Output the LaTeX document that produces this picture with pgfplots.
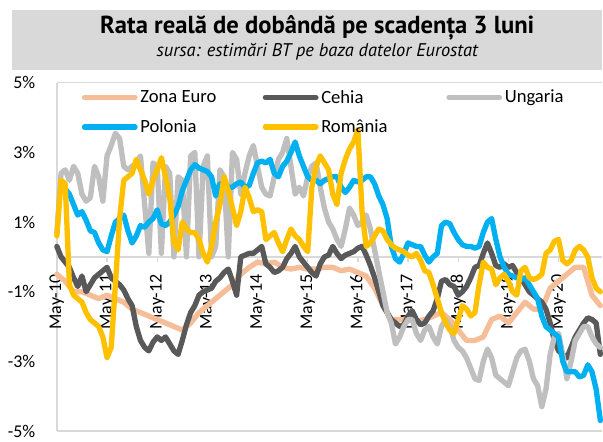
\documentclass[border=0pt]{standalone}
\usepackage{pgfplots}
\pgfplotsset{compat=1.18}
\usepackage{pgfplotstable}
\usepackage{fontspec}
\setmainfont{Carlito}
\newfontfamily\titlefont{PT Sans}

\definecolor{ze}{HTML}{F6BE98}
\definecolor{cz}{HTML}{595959}
\definecolor{hu}{HTML}{BFBFBF}
\definecolor{pl}{HTML}{00B0F0}
\definecolor{ro}{HTML}{FFC000}
\definecolor{hdr}{HTML}{D9D9D9}
\definecolor{lgr}{HTML}{D9D9D9}

% months since May-10, real rate in %
\pgfplotstableread{
m v
0 -0.5
2 -0.7
4 -1.0
6 -1.0
8 -1.1
10 -1.2
12 -1.1
14 -1.2
16 -1.3
18 -1.5
20 -1.6
22 -1.7
24 -1.8
26 -1.9
28 -2.0
30 -2.1
32 -1.9
34 -1.6
36 -1.4
38 -1.2
40 -1.0
42 -0.8
44 -0.5
46 -0.3
48 -0.15
50 -0.2
52 -0.15
54 -0.3
56 -0.35
58 -0.3
60 -0.35
62 -0.35
64 -0.3
66 -0.3
68 -0.4
70 -0.35
72 -0.45
74 -0.55
76 -0.9
78 -1.4
80 -1.8
82 -1.8
84 -1.8
86 -1.85
88 -1.8
90 -1.7
92 -1.6
94 -1.8
96 -2.1
98 -2.4
100 -2.4
102 -2.3
104 -1.8
106 -1.7
108 -1.9
110 -1.6
112 -1.3
114 -1.5
116 -1.5
118 -0.9
120 -0.7
122 -0.5
124 -0.3
126 -0.3
128 -1.1
130 -1.4
}\zetab

\pgfplotstableread{
m v
0 0.3
1 0.0
2 -0.15
3 -0.3
4 -0.6
5 -0.85
6 -0.55
7 -1.0
8 -0.8
9 -0.6
10 -0.5
11 -0.4
12 -0.3
13 -0.6
14 -0.7
15 -0.8
16 -0.95
17 -1.2
18 -1.4
19 -2.0
20 -2.4
21 -2.6
22 -2.7
23 -2.45
24 -2.3
25 -2.4
26 -2.3
27 -2.5
28 -2.7
29 -2.8
30 -2.4
31 -1.95
32 -1.6
33 -1.4
34 -1.1
35 -1.0
36 -0.95
37 -0.9
38 -0.7
39 -0.6
40 -0.45
41 -0.35
42 -0.7
43 -1.1
44 0.0
45 0.05
46 0.1
47 0.1
48 0.2
49 0.3
50 -0.2
51 -0.3
52 -0.45
53 -0.4
54 -0.3
55 -0.05
56 0.1
57 0.3
58 0.0
59 -0.15
60 -0.3
61 -0.45
62 -0.55
63 -0.2
64 0.0
65 0.05
66 0.3
67 0.1
68 -0.05
69 0.05
70 0.1
71 0.15
72 0.25
73 0.3
74 0.05
75 -0.25
76 -0.6
77 -1.0
78 -1.4
79 -1.6
80 -1.8
81 -1.9
82 -2.0
83 -1.95
84 -1.7
85 -1.55
86 -1.8
87 -1.95
88 -1.9
89 -1.7
90 -1.55
91 -1.2
92 -0.7
93 -0.65
94 -0.8
95 -0.85
96 -1.1
97 -1.0
98 -0.85
99 -0.6
100 -0.3
101 -0.25
102 0.1
103 0.4
104 0.1
105 -0.25
106 -0.3
107 -0.2
108 -0.3
109 -0.25
110 -0.45
111 -0.6
112 -0.8
113 -1.0
114 -1.1
115 -1.2
116 -1.3
117 -1.5
118 -1.9
119 -2.4
120 -2.7
121 -2.8
122 -2.9
123 -2.6
124 -2.3
125 -2.1
126 -1.9
127 -1.75
128 -1.8
129 -1.9
130 -2.8
}\cztab

\pgfplotstableread{
m v
0 0.7
1 2.4
2 2.5
3 2.2
4 2.6
5 2.4
6 1.8
7 1.6
8 1.7
9 2.6
10 2.3
11 1.6
12 2.9
13 3.2
14 3.55
15 3.4
16 2.6
17 2.5
18 2.6
19 2.7
20 2.9
21 1.5
22 0.1
23 2.7
24 2.6
25 0.1
26 2.6
27 2.4
28 0.0
29 2.3
30 2.2
31 0.0
32 2.9
33 3.0
34 0.0
35 2.6
36 2.9
37 0.0
38 0.3
39 2.5
40 2.3
41 0.0
42 3.0
43 2.8
44 1.8
45 2.4
46 2.9
47 3.2
48 2.6
49 2.0
50 1.8
51 1.75
52 2.3
53 2.8
54 3.0
55 3.4
56 2.6
57 1.8
58 2.0
59 1.75
60 2.3
61 2.6
62 2.7
63 2.0
64 1.4
65 1.0
66 0.8
67 0.5
68 0.3
69 0.8
70 1.4
71 1.2
72 0.9
73 1.0
74 1.2
75 0.8
76 0.2
77 -0.4
78 -1.0
79 -1.6
80 -1.9
81 -2.5
82 -2.3
83 -2.0
84 -1.8
85 -1.8
86 -2.2
87 -2.4
88 -2.1
89 -2.0
90 -2.3
91 -2.5
92 -2.0
93 -1.8
94 -2.0
95 -2.4
96 -2.6
97 -2.7
98 -2.9
99 -3.2
100 -3.5
101 -3.55
102 -3.0
103 -2.65
104 -2.9
105 -3.4
106 -3.5
107 -3.6
108 -3.7
109 -3.3
110 -2.9
111 -2.7
112 -2.65
113 -3.0
114 -3.5
115 -3.7
116 -4.3
117 -3.8
118 -2.8
119 -2.3
120 -2.2
121 -2.8
122 -3.5
123 -3.0
124 -2.4
125 -2.2
126 -2.0
127 -2.0
128 -2.3
129 -2.5
130 -2.6
}\hutab

\pgfplotstableread{
m v
2 1.95
3 1.8
4 1.5
5 1.2
6 1.3
7 1.05
8 0.75
9 0.7
10 0.4
11 0.2
12 0.15
13 0.6
14 1.0
15 1.1
16 1.2
17 0.75
18 0.4
19 0.6
20 0.9
21 0.85
22 1.0
23 1.1
24 1.35
25 0.95
26 0.9
27 1.0
28 1.2
29 1.45
30 1.9
31 2.2
32 2.5
33 2.65
34 2.55
35 2.5
36 2.45
37 2.3
38 1.75
39 2.1
40 2.05
41 2.0
42 2.0
43 2.1
44 2.15
45 2.0
46 2.05
47 2.4
48 2.7
49 2.75
50 2.7
51 2.8
52 2.4
53 2.3
54 2.6
55 2.75
56 3.0
57 3.3
58 2.9
59 2.6
60 2.3
61 2.2
62 2.2
63 2.1
64 2.2
65 2.25
66 2.3
67 2.3
68 2.0
69 1.85
70 2.0
71 2.2
72 2.15
73 2.2
74 2.3
75 2.3
76 2.1
77 1.75
78 1.5
79 1.1
80 0.3
81 -0.05
82 -0.15
83 0.1
84 0.4
85 0.35
86 0.3
87 0.3
88 0.05
89 -0.15
90 0.0
91 0.1
92 0.9
93 1.0
94 0.95
95 0.7
96 0.5
97 0.35
98 0.3
99 0.3
100 0.25
101 0.3
102 0.7
103 1.0
104 1.1
105 0.5
106 0.0
107 -0.3
108 -0.5
109 -0.55
110 -0.6
111 -0.65
112 -0.6
113 -0.8
114 -1.0
115 -1.2
116 -1.7
117 -2.0
118 -2.1
119 -2.2
120 -2.3
121 -3.0
122 -3.3
123 -3.3
124 -3.3
125 -3.45
126 -3.4
127 -3.1
128 -3.3
129 -3.8
130 -4.7
}\pltab

\pgfplotstableread{
m v
0 0.6
1 2.2
2 2.1
3 -0.8
4 -1.1
5 -1.2
6 -1.3
7 -1.6
8 -1.8
9 -1.9
10 -2.0
11 -2.3
12 -2.9
13 -2.6
14 -0.8
15 1.1
16 2.2
17 2.3
18 2.4
19 2.8
20 2.5
21 2.2
22 1.8
23 2.2
24 2.5
25 2.85
26 2.3
27 1.7
28 0.4
29 0.2
30 1.0
31 0.8
32 0.7
33 0.7
34 0.5
35 0.1
36 -0.15
37 0.3
38 1.0
39 1.5
40 2.3
41 1.9
42 1.4
43 0.9
44 1.3
45 2.0
46 1.7
47 1.3
48 1.35
49 1.3
50 0.5
51 0.6
52 0.7
53 0.4
54 0.15
55 0.5
56 0.8
57 0.6
58 0.5
59 0.3
60 0.15
61 2.0
62 2.6
63 2.9
64 2.7
65 2.5
66 1.8
67 1.5
68 2.4
69 2.8
70 3.1
71 3.3
72 3.65
73 1.3
74 0.3
75 0.4
76 0.6
77 0.8
78 0.75
79 0.5
80 0.35
81 0.25
82 0.2
83 0.15
84 0.05
85 0.0
86 0.1
87 -0.1
88 -0.4
89 -0.45
90 -0.8
91 -1.2
92 -1.6
93 -1.9
94 -2.1
95 -2.2
96 -1.8
97 -1.4
98 -1.5
99 -1.7
100 -1.6
101 -0.8
102 -0.15
103 -0.3
104 -0.35
105 -0.8
106 -0.6
107 -0.5
108 -0.7
109 -1.0
110 -1.1
111 -0.4
112 -0.3
113 -0.6
114 -0.65
115 -0.6
116 -0.5
117 0.1
118 0.2
119 0.45
120 0.5
121 -0.1
122 -0.2
123 -0.1
124 0.2
125 0.3
126 0.2
127 0.0
128 -0.6
129 -0.9
130 -1.0
}\rotab

\begin{document}
\begin{tikzpicture}
\begin{axis}[
    scale only axis,
    width=409.5pt,
    height=261.75pt,
    xmin=0, xmax=130.3,
    ymin=-5, ymax=5,
    clip=false,
    axis x line=middle,
    axis y line=left,
    hide obscured x ticks=false,
    axis line style={-, draw=lgr, line width=1pt},
    xtick={0,12,...,120},
    xticklabels={May-10,May-11,May-12,May-13,May-14,May-15,May-16,May-17,May-18,May-19,May-20},
    xticklabel style={rotate=90, anchor=east, inner xsep=9pt, font=\fontsize{13.5}{14}\selectfont},
    x tick style={draw=lgr, line width=1pt},
    tick align=outside,
    major tick length=4pt,
    ytick={-5,-3,-1,1,3,5},
    yticklabels={-5\%,-3\%,-1\%,1\%,3\%,5\%},
    y tick style={draw=none},
    yticklabel style={font=\fontsize{13.5}{14}\selectfont, inner xsep=0pt, xshift=-12pt},
    every axis plot/.append style={line width=4pt, line join=round, line cap=round, no markers},
    legend columns=3,
    legend cell align=left,
    legend image code/.code={\draw[#1, line width=4pt, line cap=round] (0pt,0pt) -- (38pt,0pt);},
    legend style={at={(rel axis cs:0.038,0.995)}, anchor=north west, draw=none, fill=none,
        font=\fontsize{14}{16}\selectfont, row sep=7pt, column sep=0pt},
]
\addplot[ze] table[x=m, y=v] {\zetab};
\addlegendentry{\makebox[90pt][l]{Zona Euro}}
\addplot[cz] table[x=m, y=v] {\cztab};
\addlegendentry{\makebox[92pt][l]{Cehia}}
\addplot[hu] table[x=m, y=v] {\hutab};
\addlegendentry{Ungaria}
\addplot[pl] table[x=m, y=v] {\pltab};
\addlegendentry{\makebox[90pt][l]{Polonia}}
\addplot[ro] table[x=m, y=v] {\rotab};
\addlegendentry{\makebox[92pt][l]{România}}

\draw[lgr, line width=1pt] (rel axis cs:0,1) -- (rel axis cs:1,1);
\draw[lgr, line width=1pt] (rel axis cs:0,0) -- (rel axis cs:1,0);
\fill[hdr] (rel axis cs:-0.0824,1.0372) rectangle (rel axis cs:1,1.2092);
\node[font=\titlefont\bfseries\fontsize{18.5}{20}\selectfont] at (rel axis cs:0.478,1.158) {Rata reală de dobândă pe scadența 3 luni};
\node[font=\titlefont\itshape\fontsize{13.8}{15}\selectfont] at (rel axis cs:0.478,1.089) {sursa: estimări BT pe baza datelor Eurostat};
\path (rel axis cs:-0.1044,1.2378) (rel axis cs:1,-0.0115);
\end{axis}
\end{tikzpicture}
\end{document}
